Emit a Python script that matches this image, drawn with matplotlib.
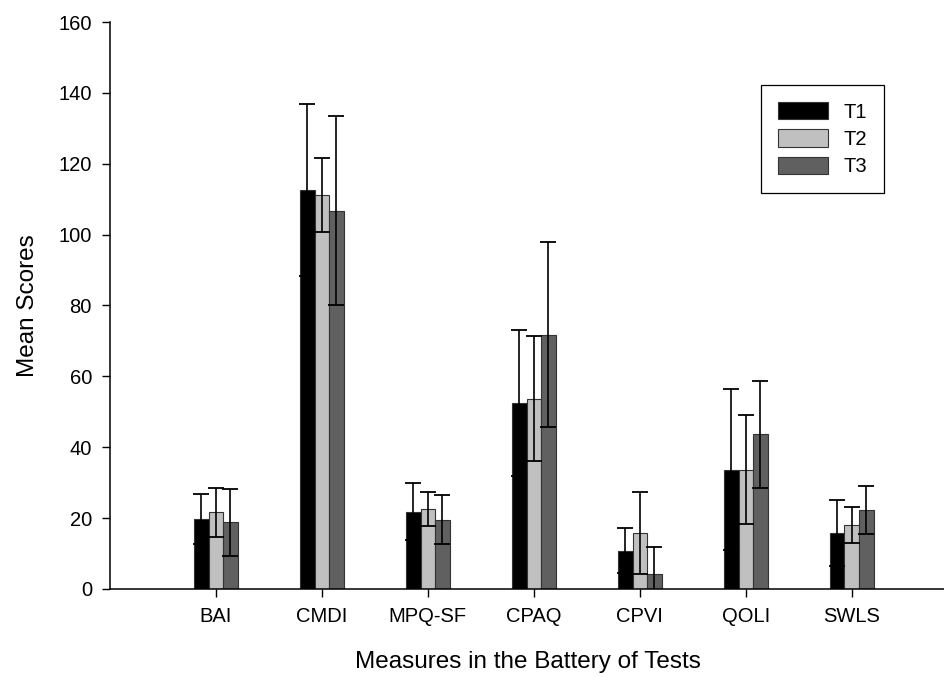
import numpy as np
import matplotlib.pyplot as plt

plt.rcParams['font.family'] = ['Liberation Sans', 'DejaVu Sans']

# values (mean +/- SD)
measures = ['BAI', 'CMDI', 'MPQ-SF', 'CPAQ', 'CPVI', 'QOLI', 'SWLS']
t1_mean = [19.8, 112.6, 21.8, 52.4, 10.8, 33.7, 15.8]
t2_mean = [21.6, 111.2, 22.6, 53.7, 15.8, 33.7, 18.0]
t3_mean = [18.8, 106.8, 19.6, 71.8, 4.2, 43.6, 22.2]
t1_sd = [7.0, 24.2, 8.0, 20.6, 6.4, 22.8, 9.4]
t2_sd = [7.0, 10.4, 4.8, 17.6, 11.7, 15.4, 5.0]
t3_sd = [9.4, 26.8, 6.8, 26.0, 7.6, 15.0, 6.8]
series = ['T1', 'T2', 'T3']

fig = plt.figure(figsize=(9.45, 6.77), dpi=100)
ax = fig.add_axes([0.1164, 0.13, 0.8836, 0.8375])

x = np.arange(1, len(measures) + 1)
w = 0.137
colors = ['#000000', '#c0c0c0', '#606060']
means = [t1_mean, t2_mean, t3_mean]
sds = [t1_sd, t2_sd, t3_sd]

for i in range(3):
    xs = x + (i - 1) * w
    ax.bar(xs, means[i], width=w, color=colors[i], edgecolor='#333333',
           linewidth=0.8, label=series[i], zorder=2)
    ax.errorbar(xs, means[i], yerr=sds[i], fmt='none', ecolor='black',
                elinewidth=1.2, capsize=6, capthick=1.3, zorder=3)

ax.set_xlim(0, 7.88)
ax.set_ylim(0, 160)
ax.set_yticks(range(0, 161, 20))
ax.set_xticks(x)
ax.set_xticklabels(measures)
ax.tick_params(axis='both', labelsize=14.5, direction='out', length=6,
               width=1, pad=7)
ax.spines['top'].set_visible(False)
ax.spines['right'].set_visible(False)
ax.spines['left'].set_linewidth(1.1)
ax.spines['bottom'].set_linewidth(1.1)

ax.set_xlabel('Measures in the Battery of Tests', fontsize=17.5, labelpad=18)
ax.set_ylabel('Mean Scores', fontsize=17.5, labelpad=14)

leg = ax.legend(loc='upper left', bbox_to_anchor=(0.7796, 0.889), fontsize=14.5,
                handlelength=2.5, handleheight=0.95, borderpad=0.85,
                labelspacing=0.38, fancybox=False, framealpha=1,
                edgecolor='black', handletextpad=0.75, borderaxespad=0)
leg.get_frame().set_linewidth(0.9)

fig.savefig('out.png', dpi=100)
